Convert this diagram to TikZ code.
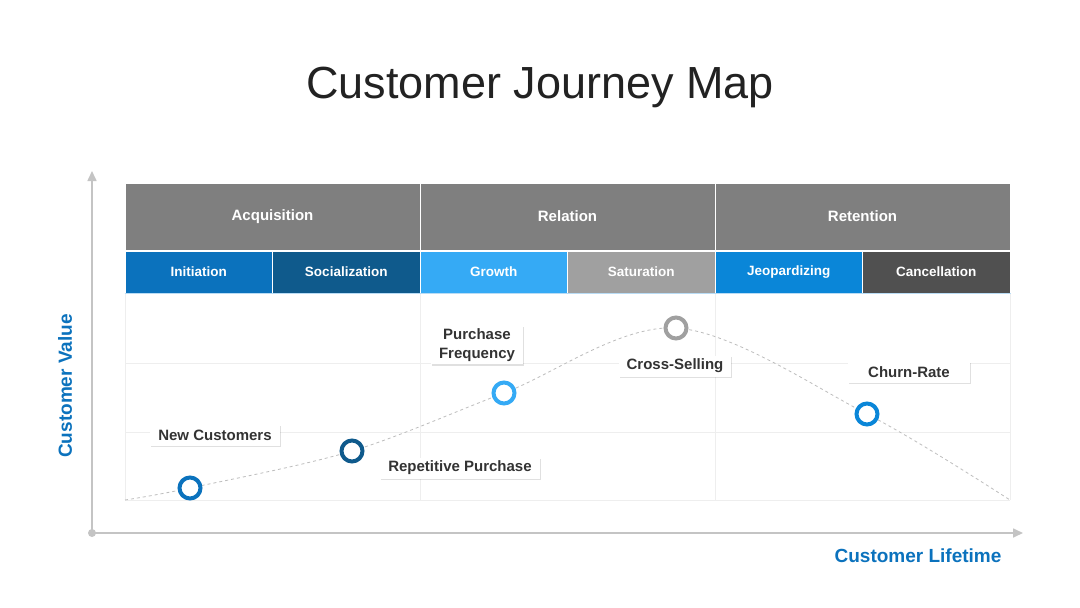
\documentclass[tikz,border=0pt]{standalone}
\usepackage{fontspec}
\setmainfont{Liberation Sans}
\usetikzlibrary{positioning, arrows.meta}

\definecolor{axisgray}{HTML}{C4C4C4}
\definecolor{bandgray}{HTML}{7F7F7F}
\definecolor{gridgray}{HTML}{EEEEEE}
\definecolor{curvegray}{HTML}{BDBDBD}
\definecolor{tagtext}{HTML}{333333}
\definecolor{titletext}{HTML}{222222}
\definecolor{axisblue}{HTML}{0B72BD}
\definecolor{iniblue}{HTML}{0B72BD}
\definecolor{socblue}{HTML}{0F5A8C}
\definecolor{groblue}{HTML}{35AAF5}
\definecolor{satgray}{HTML}{A0A0A0}
\definecolor{jeoblue}{HTML}{0A86D8}
\definecolor{candark}{HTML}{505050}
\definecolor{edgeblue}{HTML}{B9DCF5}

\begin{document}
\begin{tikzpicture}[
    x=1pt, y=-1pt,
    every node/.style={font=\bfseries},
    axis/.style={line width=1.6pt, draw=axisgray, -{Triangle[length=10pt, width=9pt]}},
    band/.style={minimum width=295pt, minimum height=67pt, inner sep=0pt,
        fill=bandgray, draw=white, line width=1pt, text=white,
        font=\bfseries\fontsize{15}{18}\selectfont},
    phase/.style={minimum width=147.5pt, minimum height=42pt, inner sep=0pt,
        fill=#1, draw=white, line width=1pt, text=white,
        font=\bfseries\fontsize{13.5}{16}\selectfont},
    gridline/.style={line width=0.7pt, draw=gridgray},
    journey/.style={dashed, line width=0.8pt, draw=curvegray},
    milestone/.style={circle, draw=#1, line width=4pt, fill=white,
        minimum size=21pt, inner sep=0pt},
    tag/.style={fill=white, text=tagtext, inner xsep=8pt, inner ysep=3pt,
        minimum height=21pt, align=center,
        font=\bfseries\fontsize{15}{19}\selectfont,
        preaction={fill=black, opacity=0.12,
            transform canvas={xshift=1pt, yshift=-1.5pt}}},
    axislabel/.style={text=axisblue, font=\bfseries\fontsize{19}{22}\selectfont},
]

% === Canvas ===
\useasboundingbox[fill=white] (0,0) rectangle (1080,608);

% === Title ===
\node[font=\fontsize{45}{52}\selectfont, text=titletext] (title) at (540,87) {Customer Journey Map};

% === Grid of the chart area ===
\def\gridL{125}     % left edge
\def\gridR{1010}    % right edge
\def\gridT{293}     % top edge
\def\gridB{500}     % bottom edge
\foreach \yy in {363, 432, 500} {
    \draw[gridline] (\gridL,\yy) -- (\gridR,\yy);
}
\foreach \xx in {125, 420, 715, 1010} {
    \draw[gridline] (\xx,\gridT) -- (\xx,\gridB);
}

% === Header: stages ===
\foreach \name/\label/\xc in {acq/Acquisition/272.5, rel/Relation/567.5, ret/Retention/862.5} {
    \node[band] (\name) at (\xc,216.5) {\label};
}

% === Header: phases ===
\foreach \name/\label/\col/\xc in {ini/Initiation/iniblue/198.75, soc/Socialization/socblue/346.25,
        gro/Growth/groblue/493.75, sat/Saturation/satgray/641.25,
        jeo/Jeopardizing/jeoblue/788.75, can/Cancellation/candark/936.25} {
    \node[phase=\col] (\name) at (\xc,272) {\label};
}
\draw[line width=1pt, edgeblue] (ini.south west) -- (can.south east);

% === Axes ===
\coordinate (origin) at (92,533);
\coordinate (ytip) at (92,171);
\coordinate (xtip) at (1023,533);
\draw[axis] (origin) -- (ytip);
\draw[axis] (origin) -- (xtip);
\fill[axisgray] (origin) circle (4pt);
\node[axislabel, rotate=90] (yname) at (65,386) {Customer Value};
\node[axislabel, anchor=east] (xname) at (1005,556) {Customer Lifetime};

% === Journey curve ===
\coordinate (start) at (\gridL,\gridB);
\coordinate (pNew) at (190,488);
\coordinate (pRep) at (352,451);
\coordinate (pFreq) at (504,393);
\coordinate (pCross) at (676,328);
\coordinate (pChurn) at (867,414);
\coordinate (stop) at (\gridR,\gridB);
\draw[journey] plot[smooth, tension=0.55] coordinates
    {(start) (pNew) (pRep) (pFreq) (pCross) (pChurn) (stop)};

% === Milestones ===
\node[milestone=iniblue] (newc) at (pNew) {};
\node[milestone=socblue] (rep) at (pRep) {};
\node[milestone=groblue] (freq) at (pFreq) {};
\node[milestone=satgray] (cross) at (pCross) {};
\node[milestone=jeoblue] (churn) at (pChurn) {};

% === Labels ===
\node[tag] (newtag) at (215,435) {New Customers};
\node[tag] (reptag) at (460,468) {Repetitive Purchase};
\node[tag] (freqtag) at (477,345) {Purchase\\Frequency};
\node[tag] (crosstag) at (675,366) {Cross-Selling};
\node[tag, minimum width=122pt] (churntag) at (909,372) {Churn-Rate};

\end{tikzpicture}
\end{document}
